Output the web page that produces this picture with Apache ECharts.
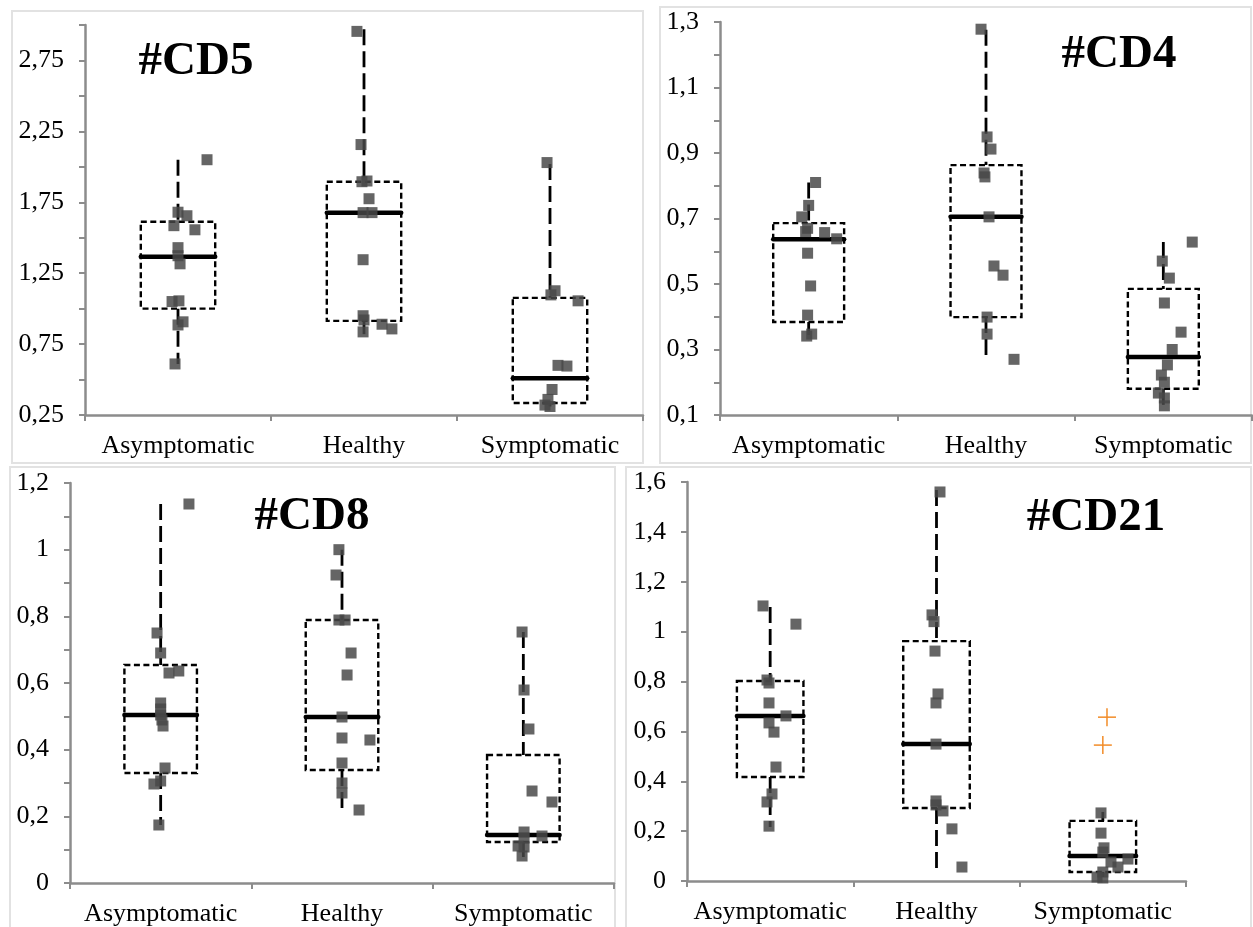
<!DOCTYPE html>
<html><head><meta charset="utf-8">
<script src="https://cdn.jsdelivr.net/npm/echarts@6/dist/echarts.min.js"></script>
<style>html,body{margin:0;padding:0;background:#fff}#chart{width:1253px;height:927px}</style>
</head><body><div id="chart"></div>
<script>
// ---------------- DATA ----------------
const categories = ['Asymptomatic', 'Healthy', 'Symptomatic'];
const panelTitles = ['#CD5', '#CD4', '#CD8', '#CD21'];

// Box statistics per category: [whisker low, Q1, median, Q3, whisker high]
const cd5Box  = [[0.61, 1.0, 1.366, 1.613, 2.05], [0.82, 0.914, 1.677, 1.895, 2.97], [0.31, 0.335, 0.51, 1.076, 2.02]];
const cd4Box  = [[0.344, 0.384, 0.637, 0.686, 0.81], [0.27, 0.399, 0.705, 0.863, 1.276], [0.128, 0.18, 0.277, 0.485, 0.628]];
const cd8Box  = [[0.174, 0.33, 0.504, 0.654, 1.137], [0.219, 0.339, 0.498, 0.789, 1.0], [0.078, 0.123, 0.144, 0.384, 0.753]];
const cd21Box = [[0.217, 0.417, 0.662, 0.802, 1.099], [0.052, 0.293, 0.549, 0.962, 1.568], [0.016, 0.036, 0.1, 0.241, 0.277]];

// Individual values per category
const cd5Points = [
  [2.05, 1.68, 1.655, 1.585, 1.556, 1.43, 1.373, 1.316, 1.05, 1.055, 0.907, 0.885, 0.61],
  [2.955, 2.157, 1.895, 1.90, 1.775, 1.677, 1.677, 1.345, 0.95, 0.92, 0.89, 0.857, 0.836],
  [2.03, 1.126, 1.097, 1.055, 0.60, 0.595, 0.43, 0.36, 0.32, 0.31]
];
const cd4Points = [
  [0.81, 0.74, 0.705, 0.67, 0.66, 0.657, 0.638, 0.594, 0.494, 0.405, 0.347, 0.341],
  [1.278, 0.949, 0.912, 0.839, 0.827, 0.705, 0.555, 0.527, 0.399, 0.347, 0.27],
  [0.628, 0.57, 0.518, 0.442, 0.353, 0.30, 0.253, 0.222, 0.20, 0.167, 0.152, 0.128]
];
const cd8Points = [
  [1.137, 0.75, 0.69, 0.63, 0.636, 0.54, 0.522, 0.504, 0.489, 0.471, 0.345, 0.306, 0.297, 0.174],
  [1.0, 0.924, 0.789, 0.789, 0.69, 0.624, 0.498, 0.435, 0.429, 0.36, 0.30, 0.27, 0.219],
  [0.753, 0.579, 0.462, 0.276, 0.243, 0.153, 0.135, 0.141, 0.111, 0.108, 0.081]
];
const cd21Points = [
  [1.103, 1.03, 0.806, 0.794, 0.714, 0.662, 0.634, 0.597, 0.457, 0.349, 0.317, 0.22],
  [1.56, 1.067, 1.04, 0.922, 0.75, 0.714, 0.549, 0.321, 0.305, 0.281, 0.209, 0.056],
  [0.273, 0.192, 0.133, 0.116, 0.088, 0.076, 0.056, 0.036, 0.016, 0.012]
];

// Horizontal jitter of each point (fraction of a category band)
const cd5Jitter = [
  [0.156, 0, 0.048, -0.022, 0.091, 0, 0, 0.011, -0.032, 0.005, 0.027, 0, -0.016],
  [-0.038, -0.016, -0.011, 0.016, 0.027, -0.005, 0.043, -0.005, -0.005, 0, 0.097, 0.15, -0.005],
  [-0.016, 0.027, 0.005, 0.151, 0.043, 0.091, 0.011, -0.011, -0.027, 0]
];
const cd4Jitter = [
  [0.039, 0, -0.039, -0.006, -0.017, 0.09, 0.158, -0.006, 0.011, -0.006, 0.017, -0.011],
  [-0.028, 0.006, 0.028, -0.011, -0.006, 0.017, 0.045, 0.096, 0.006, 0.006, 0.158],
  [0.163, -0.006, 0.034, 0.006, 0.1, 0.05, 0.023, -0.011, 0.006, -0.028, 0.006, 0.006]
];
const cd8Jitter = [
  [0.156, -0.02, 0, 0.046, 0.1, 0, 0, 0, 0.007, 0.013, 0.024, 0, -0.037, -0.01],
  [-0.017, -0.033, -0.017, 0.017, 0.05, 0.028, 0, 0, 0.154, 0, 0, 0, 0.094],
  [-0.007, 0.004, 0.031, 0.048, 0.158, 0.004, 0.004, 0.103, -0.029, 0.004, -0.007]
];
const cd21Jitter = [
  [-0.043, 0.155, -0.019, -0.007, -0.007, 0.095, -0.007, 0.023, 0.035, 0.011, -0.019, -0.007],
  [0.021, -0.027, -0.015, -0.009, 0.009, -0.003, -0.003, -0.003, -0.003, 0.039, 0.093, 0.153],
  [-0.011, -0.011, 0.007, 0, 0.151, 0.049, 0.091, 0, -0.035, 0]
];

// Outliers (orange crosses) in #CD21, Symptomatic
const cd21Outliers = [0.657, 0.545];
const cd21OutlierJitter = [0.025, 0];

// Y-axis ranges: [min, max, tick step, label step]
const cd5Axis  = [0.25, 3.0, 0.25, 0.5];
const cd4Axis  = [0.1, 1.3, 0.1, 0.2];
const cd8Axis  = [0, 1.2, 0.1, 0.2];
const cd21Axis = [0, 1.6, 0.2, 0.2];

// ---------------- LAYOUT / STYLE ----------------
const FONT = "'Liberation Serif', 'Times New Roman', serif";
const AXIS_GRAY = '#8c8c8c';
const BOX_HALF = 0.2;

const panels = [
  { box: cd5Box,  pts: cd5Points,  jit: cd5Jitter,  axis: cd5Axis,  dec: 2, grid: { left: 85,  top: 25,  width: 558, height: 390 }, title: [196, 62] },
  { box: cd4Box,  pts: cd4Points,  jit: cd4Jitter,  axis: cd4Axis,  dec: 1, grid: { left: 720, top: 22,  width: 532, height: 393 }, title: [1119, 55] },
  { box: cd8Box,  pts: cd8Points,  jit: cd8Jitter,  axis: cd8Axis,  dec: 1, grid: { left: 70,  top: 483, width: 544, height: 400 }, title: [312, 517] },
  { box: cd21Box, pts: cd21Points, jit: cd21Jitter, axis: cd21Axis, dec: 1, grid: { left: 687, top: 482, width: 499, height: 399 }, title: [1096, 518] }
];

const panelFrames = [
  { x: 12, y: 11, width: 631, height: 452 },
  { x: 660, y: 7, width: 591, height: 456 },
  { x: 10, y: 467, width: 605, height: 470 },
  { x: 626, y: 467, width: 625, height: 470 }
];

function renderBox(params, api) {
  const c = api.value(0);
  const lo = api.value(1), q1 = api.value(2), med = api.value(3), q3 = api.value(4), hi = api.value(5);
  const tl = api.coord([c - BOX_HALF, q3]);
  const br = api.coord([c + BOX_HALF, q1]);
  const ml = api.coord([c - BOX_HALF, med]);
  const mr = api.coord([c + BOX_HALF, med]);
  const pHi = api.coord([c, hi]), pQ3 = api.coord([c, q3]), pQ1 = api.coord([c, q1]), pLo = api.coord([c, lo]);
  const wStyle = { stroke: '#000', lineWidth: 2.8, lineDash: [16, 6], fill: null };
  return {
    type: 'group',
    children: [
      { type: 'line', shape: { x1: pHi[0], y1: pHi[1], x2: pQ3[0], y2: pQ3[1] }, style: wStyle },
      { type: 'line', shape: { x1: pQ1[0], y1: pQ1[1], x2: pLo[0], y2: pLo[1] }, style: wStyle },
      { type: 'rect', shape: { x: tl[0], y: tl[1], width: br[0] - tl[0], height: br[1] - tl[1] },
        style: { fill: null, stroke: '#000', lineWidth: 2.4, lineDash: [6, 3.5] } },
      { type: 'line', shape: { x1: ml[0], y1: ml[1], x2: mr[0], y2: mr[1] },
        style: { stroke: '#000', lineWidth: 4.5, lineCap: 'round' } }
    ]
  };
}

function renderPlus(params, api) {
  const p = api.coord([api.value(0), api.value(1)]);
  const h = 9;
  const st = { stroke: '#F28C28', lineWidth: 1.5 };
  return {
    type: 'group',
    children: [
      { type: 'line', shape: { x1: p[0] - h, y1: p[1], x2: p[0] + h, y2: p[1] }, style: st },
      { type: 'line', shape: { x1: p[0], y1: p[1] - h, x2: p[0], y2: p[1] + h }, style: st }
    ]
  };
}

function fmt(v, dec) {
  return String(+(+v).toFixed(dec)).replace('.', ',');
}

const option = {
  backgroundColor: '#fff',
  animation: false,
  title: [], grid: [], xAxis: [], yAxis: [], series: [],
  graphic: panelFrames.map(f => ({
    type: 'rect', shape: f, silent: true, z: -10,
    style: { fill: null, stroke: '#e2e2e2', lineWidth: 2 }
  }))
};

panels.forEach((p, g) => {
  option.title.push({
    text: panelTitles[g], left: p.title[0], top: p.title[1],
    textAlign: 'center', textVerticalAlign: 'middle', padding: 0,
    textStyle: { fontFamily: FONT, fontWeight: 'bold', fontSize: 47, color: '#000' }
  });
  option.grid.push(Object.assign({ containLabel: false }, p.grid));
  option.xAxis.push({
    type: 'category', gridIndex: g, data: categories, boundaryGap: true,
    axisLine: { onZero: false, lineStyle: { color: AXIS_GRAY, width: 2.5 } },
    axisTick: { show: true, length: 6, lineStyle: { color: AXIS_GRAY, width: 2 } },
    axisLabel: { interval: 0, fontFamily: FONT, fontSize: 26, color: '#000', margin: 18 },
    splitLine: { show: false }
  });
  option.xAxis.push({ type: 'value', gridIndex: g, min: 0, max: 3, show: false });
  const [mn, mx, step, lstep] = p.axis;
  option.yAxis.push({
    type: 'value', gridIndex: g, min: mn, max: mx, interval: step,
    axisLine: { show: true, lineStyle: { color: AXIS_GRAY, width: 2.5 } },
    axisTick: { show: true, length: 6, lineStyle: { color: AXIS_GRAY, width: 2 } },
    splitLine: { show: false },
    axisLabel: {
      fontFamily: FONT, fontSize: 26, color: '#000', margin: 21,
      formatter: v => {
        const k = Math.round((v - mn) / lstep * 1000) / 1000;
        return Math.abs(k - Math.round(k)) < 1e-6 ? fmt(v, p.dec) : '';
      }
    }
  });

  option.series.push({
    type: 'custom', xAxisIndex: 2 * g + 1, yAxisIndex: g, z: 2,
    renderItem: renderBox, silent: true,
    data: p.box.map((b, i) => [i + 0.5].concat(b))
  });
  const pts = [];
  p.pts.forEach((arr, i) => arr.forEach((v, j) => pts.push([i + 0.5 + p.jit[i][j], v])));
  option.series.push({
    type: 'scatter', xAxisIndex: 2 * g + 1, yAxisIndex: g, z: 3,
    symbol: 'rect', symbolSize: 11,
    itemStyle: { color: '#474747', opacity: 0.84 },
    data: pts
  });
  if (g === 3) {
    option.series.push({
      type: 'custom', xAxisIndex: 2 * g + 1, yAxisIndex: g, z: 4,
      renderItem: renderPlus, silent: true,
      data: cd21Outliers.map((v, j) => [2.5 + cd21OutlierJitter[j], v])
    });
  }
});

const chart = echarts.init(document.getElementById('chart'), null, { renderer: 'canvas' });
chart.setOption(option);
</script>
</body></html>
